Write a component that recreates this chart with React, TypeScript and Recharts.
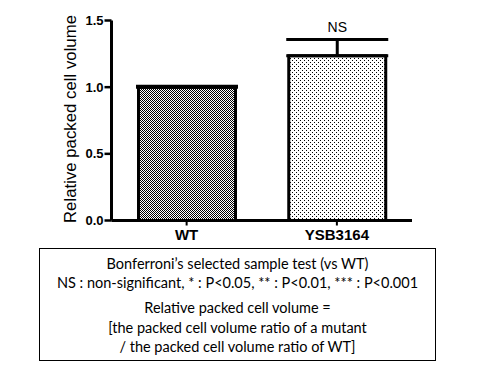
import React from "react";
import { ComposedChart, Bar, Cell, XAxis, YAxis, ErrorBar, LabelList } from "recharts";

const categories = ["WT", "YSB3164"];
const values = [1.0, 1.236];
const upperErrors = [0.006, 0.122];
const significance = ["", "NS"];
const yTicks = [0, 0.5, 1.0, 1.5];
const fills = ["url(#checker)", "url(#dots)"];

const data = categories.map((c, i) => ({
  name: c,
  value: values[i],
  err: [0, upperErrors[i]],
  sig: significance[i],
}));

const boxLines: { text: string; y: number }[] = [
  { text: "Bonferroni\u2019s selected sample test (vs WT)", y: 264 },
  { text: "NS : non-significant, * : P<0.05, ** : P<0.01, *** : P<0.001", y: 283 },
  { text: "Relative packed cell volume =", y: 308 },
  { text: "[the packed cell volume ratio of a mutant", y: 328 },
  { text: "/ the packed cell volume ratio of WT]", y: 347 },
];

const SigLabel = (props: any) => {
  const { x, y, width, height, index } = props;
  const s = significance[index];
  if (!s) return null;
  const pxPerUnit = height / values[index];
  const topY = y - upperErrors[index] * pxPerUnit;
  return (
    <text
      x={x + width / 2}
      y={topY - 7}
      textAnchor="middle"
      fontFamily="Liberation Sans, Arial, sans-serif"
      fontSize={14}
      fill="#000"
    >
      {s}
    </text>
  );
};

const YLabel = () => (
  <text
    x={76}
    y={119}
    transform="rotate(-90 76 119)"
    textAnchor="middle"
    fontFamily="Liberation Sans, Arial, sans-serif"
    fontSize={16.8}
    fill="#000"
  >
    Relative packed cell volume
  </text>
);

export default function App() {
  return (
    <div style={{ position: "absolute", left: 0, top: 0, width: 480, height: 370, background: "#fff" }}>
      <ComposedChart
        width={480}
        height={250}
        data={data}
        margin={{ top: 20.5, right: 68, bottom: 4.5, left: 0 }}
        barCategoryGap={0}
      >
        <defs>
          <pattern id="checker" width="2" height="2" patternUnits="userSpaceOnUse">
            <rect width="2" height="2" fill="#fff" />
            <rect x="0" y="0" width="1" height="1" fill="#000" />
            <rect x="1" y="1" width="1" height="1" fill="#000" />
          </pattern>
          <pattern id="dots" width="4" height="4" patternUnits="userSpaceOnUse">
            <rect width="4" height="4" fill="#fff" />
            <rect x="0" y="0" width="1" height="1" fill="#000" />
            <rect x="2" y="2" width="1" height="1" fill="#000" />
          </pattern>
        </defs>
        <XAxis
          dataKey="name"
          height={25}
          axisLine={{ stroke: "#000", strokeWidth: 3 }}
          tickLine={{ stroke: "#000", strokeWidth: 2 }}
          tickSize={5}
          tickMargin={4}
          tick={{ fill: "#000", fontSize: 15, fontWeight: "bold", fontFamily: "Liberation Sans, Arial, sans-serif" }}
        />
        <YAxis
          width={111.5}
          domain={[0, 1.5]}
          ticks={yTicks}
          interval={0}
          tickFormatter={(v: number) => v.toFixed(1)}
          axisLine={{ stroke: "#000", strokeWidth: 3 }}
          tickLine={{ stroke: "#000", strokeWidth: 2.5 }}
          tickSize={7}
          tickMargin={1}
          tick={{ fill: "#000", fontSize: 13, fontWeight: "bold", fontFamily: "Liberation Sans, Arial, sans-serif" }}
          label={<YLabel />}
        />
        <Bar dataKey="value" barSize={97} stroke="#000" strokeWidth={3} isAnimationActive={false}>
          {data.map((d, i) => (
            <Cell key={d.name} fill={fills[i]} />
          ))}
          <ErrorBar dataKey="err" width={51} stroke="#000" strokeWidth={3} direction="y" />
          <LabelList content={<SigLabel />} />
        </Bar>
      </ComposedChart>
      <div
        style={{
          position: "absolute",
          left: 39,
          top: 248,
          width: 397,
          height: 113,
          border: "1.5px solid #000",
          boxSizing: "border-box",
        }}
      />
      {boxLines.map((l) => (
        <div
          key={l.text}
          style={{
            position: "absolute",
            left: 0,
            width: 475,
            top: l.y - 10,
            height: 20,
            lineHeight: "20px",
            textAlign: "center",
            fontFamily: "Lato, sans-serif",
            fontSize: 14.5,
            color: "#000",
            whiteSpace: "nowrap",
          }}
        >
          {l.text}
        </div>
      ))}
    </div>
  );
}
